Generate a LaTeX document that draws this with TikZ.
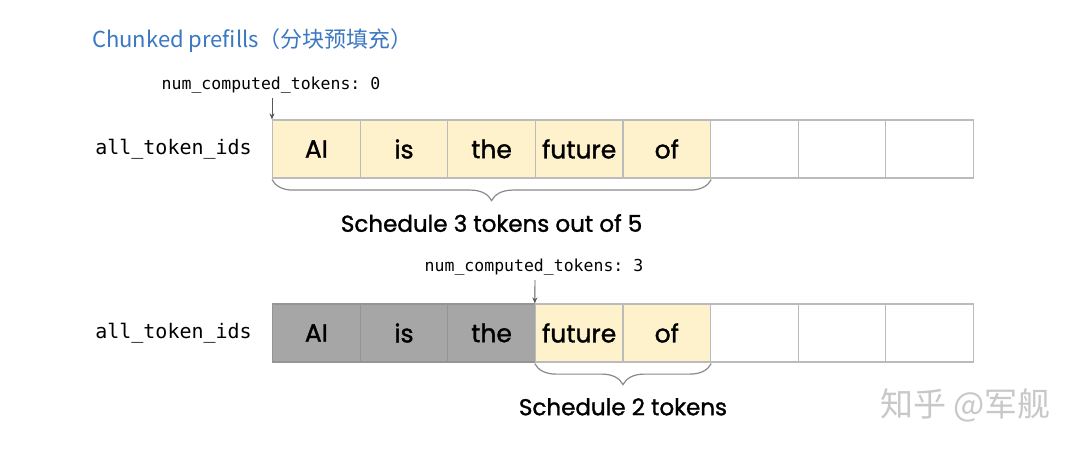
\documentclass[tikz,border=0pt]{standalone}
\usepackage{fontspec}
\setmainfont{Poppins}
\newfontfamily\medfont{Poppins}[FakeBold=1.3]
\setmonofont{DejaVu Sans Mono}
\newfontfamily\cjk{Noto Sans CJK SC}
\usetikzlibrary{decorations.pathreplacing,arrows.meta}
\definecolor{cellyellow}{HTML}{FDF2CC}
\definecolor{cellgray}{HTML}{A6A6A6}
\definecolor{cellborder}{HTML}{BBBBBB}
\definecolor{titleblue}{HTML}{3B78C2}
\definecolor{bracegray}{HTML}{8A8A8A}
\definecolor{wmgray}{HTML}{C8C8C8}
\tikzset{
  cell/.style={draw=cellborder, line width=1.2pt, minimum width=87.6pt, minimum height=58pt, inner sep=0pt, font=\medfont\fontsize{25}{29}\selectfont, anchor=west},
  newcell/.style={cell, fill=cellyellow},
  donecell/.style={cell, fill=cellgray, draw=cellgray!90!black},
  emptycell/.style={cell, fill=white},
  monolbl/.style={font=\ttfamily\fontsize{16.5}{20}\selectfont, inner sep=0pt},
  rowlbl/.style={font=\ttfamily\fontsize{20}{24}\selectfont, inner sep=0pt},
  bracelbl/.style={font=\medfont\fontsize{23}{27}\selectfont, inner sep=0pt},
  ptr/.style={draw=black!65, line width=0.9pt, -{Stealth[length=6pt,width=5pt]}},
  curly/.style={draw=bracegray, line width=1.2pt, decorate, decoration={brace, mirror, amplitude=21pt, raise=1pt}}
}
\begin{document}
\begin{tikzpicture}[x=1pt,y=-1pt]
\useasboundingbox[fill=white] (0,0) rectangle (1080,449);
% title
\node[anchor=west, inner sep=0pt, text=titleblue, font=\cjk\fontsize{22}{26}\selectfont] (title) at (92,41) {Chunked prefills（分块预填充）};
% row 1
\node[rowlbl, anchor=east] (lbl1) at (252,149) {all\_token\_ids};
\foreach \w [count=\i] in {AI,is,the,future,of}
  \node[newcell] (a\i) at ({272+87.6*(\i-1)},149) {\w};
\foreach \i in {6,7,8}
  \node[emptycell] (a\i) at ({272+87.6*(\i-1)},149) {};
\node[monolbl] (c1) at (271,85) {num\_computed\_tokens: 0};
\coordinate (p1) at (272,98);
\draw[ptr] (p1) -- (a1.north west);
\draw[curly] (a1.south west) -- (a5.south east) node[midway, below=35pt, bracelbl] (s1) {Schedule 3 tokens out of 5};
% row 2
\node[rowlbl, anchor=east] (lbl2) at (252,333) {all\_token\_ids};
\foreach \w [count=\i] in {AI,is,the}
  \node[donecell] (b\i) at ({272+87.6*(\i-1)},333) {\w};
\foreach \w [count=\i from 4] in {future,of}
  \node[newcell] (b\i) at ({272+87.6*(\i-1)},333) {\w};
\foreach \i in {6,7,8}
  \node[emptycell] (b\i) at ({272+87.6*(\i-1)},333) {};
\node[monolbl] (c2) at (534,267) {num\_computed\_tokens: 3};
\coordinate (p2) at (535,280);
\draw[ptr] (p2) -- (b4.north west);
\draw[curly] (b4.south west) -- (b5.south east) node[midway, below=35pt, bracelbl] (s2) {Schedule 2 tokens};
% watermark
\node[anchor=west, inner sep=0pt, text=wmgray, font=\cjk\fontsize{33}{38}\selectfont] (wm) at (880,405) {知乎 @军舰};
\end{tikzpicture}
\end{document}
